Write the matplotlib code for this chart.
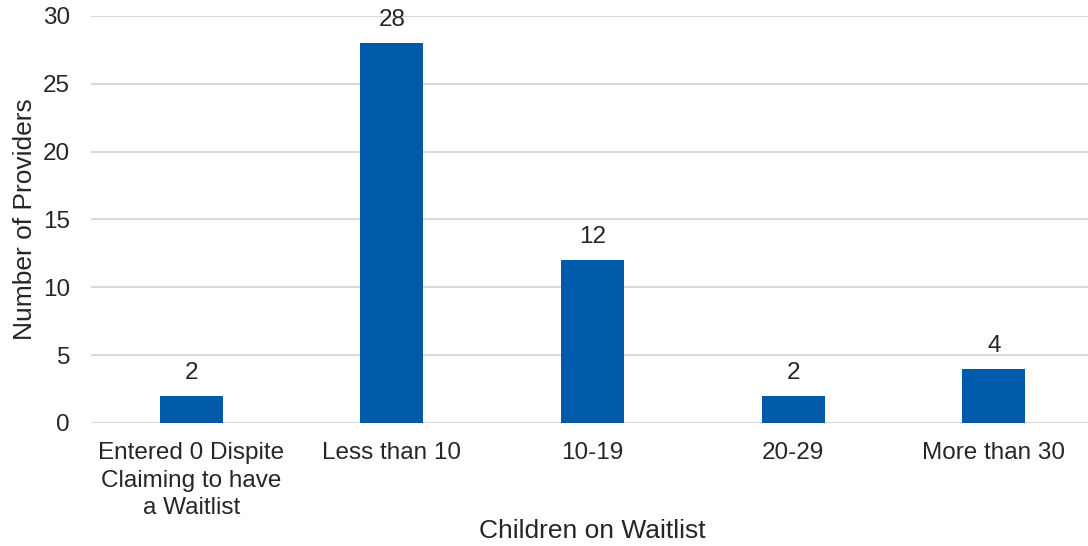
import matplotlib.pyplot as plt

plt.rcParams['font.family'] = ['Liberation Sans', 'DejaVu Sans']

categories = ["Entered 0 Dispite\nClaiming to have\na Waitlist", "Less than 10",
              "10-19", "20-29", "More than 30"]
providers = [2, 28, 12, 2, 4]

text_color = "#262626"

fig = plt.figure(figsize=(10.88, 5.46), dpi=100)
ax = fig.add_axes([0.0836, 0.2253, 0.922, 0.7454])

x = range(len(categories))
bars = ax.bar(x, providers, width=0.315, color="#005AAA", zorder=3)
for b, v in zip(bars, providers):
    ax.text(b.get_x() + b.get_width() / 2, v + 0.9, str(v), ha="center", va="bottom",
            fontsize=17.5, color=text_color)

ax.set_xlim(-0.5, len(categories) - 0.5)
ax.set_ylim(0, 30)
ax.set_yticks(range(0, 31, 5))
ax.set_xticks(list(x))
ax.set_xticklabels(categories, fontsize=17.5, color=text_color, linespacing=1.3)
ax.tick_params(axis="y", labelsize=17.5, labelcolor=text_color, length=0, pad=15)
ax.tick_params(axis="x", length=0, pad=14)
ax.grid(axis="y", color="#d9d9d9", linewidth=1.5, zorder=0)
for s in ax.spines.values():
    s.set_visible(False)

ax.set_xlabel("Children on Waitlist", fontsize=19, color=text_color, labelpad=0)
ax.set_ylabel("Number of Providers", fontsize=19, color=text_color, labelpad=4)

fig.savefig("out.png", dpi=100)
